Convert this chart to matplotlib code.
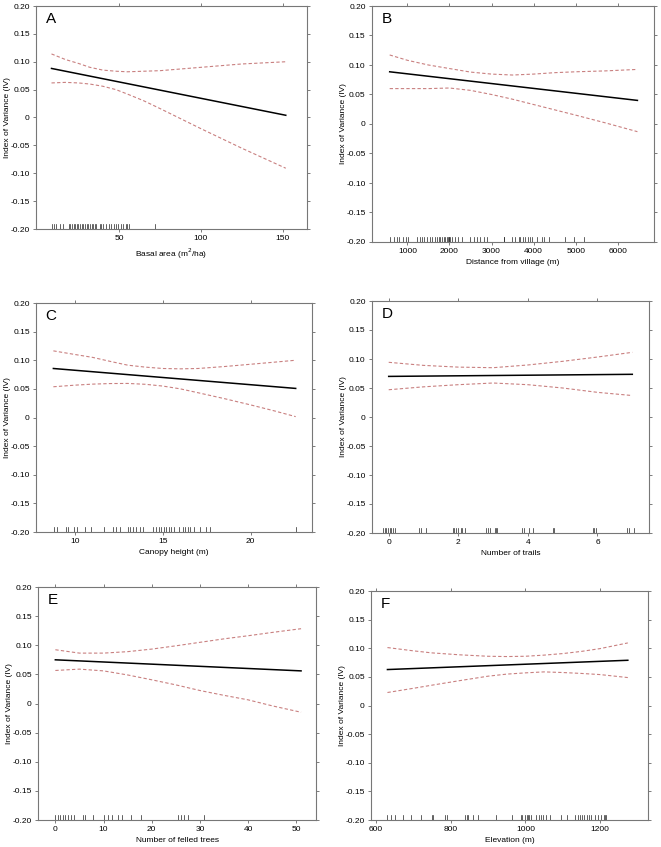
import numpy as np
import matplotlib.pyplot as plt
from matplotlib.ticker import FuncFormatter

plt.rcParams['font.family'] = ['Liberation Sans', 'DejaVu Sans']

# ---- panel A: basal area ----
a_x = [8.5, 17, 25, 32, 40, 48, 55, 65, 75, 100, 125, 152]
a_mean = [0.088, 0.083, 0.078, 0.074, 0.069, 0.064, 0.060, 0.055, 0.049, 0.034, 0.019, 0.004]
a_up = [0.114, 0.104, 0.097, 0.090, 0.085, 0.083, 0.082, 0.083, 0.084, 0.090, 0.096, 0.100]
a_lo = [0.062, 0.063, 0.062, 0.060, 0.056, 0.050, 0.042, 0.030, 0.016, -0.020, -0.055, -0.091]
a_rug = [9, 10, 11.5, 13.5, 15.5, 19, 20, 21, 22, 23, 24, 25, 26, 27, 28, 29, 30,
         31, 32, 33, 34, 35, 36, 38, 39, 40, 42, 44, 45, 47, 48, 49, 51, 52, 54,
         55, 56, 72]

# ---- panel B: distance from village ----
b_x = [580, 1000, 1500, 2000, 2500, 3000, 3500, 4000, 4500, 5000, 5700, 6466]
b_mean = [0.0885, 0.085, 0.081, 0.077, 0.073, 0.069, 0.065, 0.061, 0.057, 0.053, 0.047, 0.040]
b_up = [0.117, 0.108, 0.100, 0.094, 0.088, 0.0846, 0.083, 0.0846, 0.087, 0.0885, 0.090, 0.0925]
b_lo = [0.060, 0.060, 0.060, 0.061, 0.057, 0.050, 0.042, 0.033, 0.024, 0.015, 0.002, -0.013]
b_rug = [580, 676, 755, 810, 889, 968, 1008, 1229, 1309, 1348, 1403, 1467, 1530,
         1585, 1665, 1704, 1744, 1783, 1823, 1862, 1902, 1941, 1960, 1981, 2000,
         2021, 2060, 2139, 2195, 2297, 2495, 2590, 2653, 2733, 2812, 2891, 3286,
         3300, 3484, 3563, 3642, 3682, 3745, 3801, 3856, 3903, 3959, 4078, 4196,
         4236, 4354, 4750, 4948, 5185]

# ---- panel C: canopy height ----
c_x = [8.76, 10, 11, 12, 13, 14, 15, 16, 17, 18.5, 20, 21.3, 22.57]
c_mean = [0.0856, 0.0825, 0.080, 0.0775, 0.075, 0.0725, 0.070, 0.0675, 0.065,
          0.0615, 0.058, 0.0545, 0.0508]
c_up = [0.1164, 0.110, 0.105, 0.098, 0.0914, 0.088, 0.0856, 0.085, 0.0856,
        0.089, 0.093, 0.0965, 0.100]
c_lo = [0.0537, 0.0565, 0.0583, 0.0593, 0.0595, 0.058, 0.0549, 0.050, 0.0433,
        0.033, 0.022, 0.012, 0.0015]
c_rug = [8.82, 8.99, 9.47, 9.58, 9.94, 10.13, 10.57, 10.9, 11.62, 12.15, 12.32,
         12.57, 13.0, 13.14, 13.3, 13.49, 13.71, 13.87, 14.44, 14.63, 14.76, 14.9,
         15.05, 15.2, 15.33, 15.47, 15.62, 15.9, 16.15, 16.29, 16.44, 16.57,
         16.76, 17.14, 17.47, 17.71, 22.57]

# ---- panel D: number of trails ----
d_x = [0, 1, 2, 3, 4, 5, 6, 7]
d_mean = [0.070, 0.0705, 0.071, 0.0715, 0.072, 0.0725, 0.073, 0.0736]
d_up = [0.0943, 0.089, 0.086, 0.085, 0.0897, 0.096, 0.1034, 0.1115]
d_lo = [0.047, 0.052, 0.0557, 0.0586, 0.0557, 0.050, 0.0425, 0.037]
d_rug = [-0.16, -0.12, -0.08, -0.03, 0.03, 0.08, 0.12, 0.17, 0.86, 0.92, 1.08,
         1.84, 1.89, 1.93, 2.0, 2.07, 2.12, 2.19, 2.81, 2.86, 2.92, 3.05, 3.08,
         3.1, 3.84, 3.9, 4.02, 4.16, 4.71, 4.76, 5.86, 5.9, 5.95, 6.86, 6.9, 7.05]

# ---- panel E: number of felled trees ----
e_x = [0, 5, 10, 15, 20, 25, 30, 35, 40, 45, 51]
e_mean = [0.075, 0.073, 0.071, 0.069, 0.0675, 0.0655, 0.0635, 0.062, 0.060, 0.058, 0.056]
e_up = [0.0923, 0.0865, 0.0865, 0.089, 0.0934, 0.099, 0.105, 0.111, 0.1163, 0.122, 0.1284]
e_lo = [0.0567, 0.059, 0.056, 0.049, 0.0407, 0.032, 0.0223, 0.014, 0.0063, -0.004, -0.015]
e_rug = [0, 0.5, 1.0, 1.6, 2.1, 2.7, 3.3, 3.9, 5.8, 6.2, 7.9, 10.0, 11.0, 11.8,
         13.0, 13.9, 15.8, 17.8, 25.5, 26.0, 26.7, 27.6, 30.8]

# ---- panel F: elevation ----
f_x = [631, 700, 750, 825, 900, 950, 1000, 1050, 1100, 1150, 1200, 1274]
f_mean = [0.0628, 0.0645, 0.066, 0.068, 0.070, 0.071, 0.0725, 0.074, 0.075,
          0.076, 0.0775, 0.079]
f_up = [0.1012, 0.0955, 0.0919, 0.0885, 0.086, 0.0855, 0.086, 0.088, 0.0907,
        0.0945, 0.0994, 0.1093]
f_lo = [0.0227, 0.030, 0.0355, 0.0435, 0.0512, 0.0548, 0.057, 0.0587, 0.0576,
        0.056, 0.054, 0.0488]
f_rug = [631, 640, 652, 672, 693, 721, 749, 752, 785, 791, 838, 843, 847, 859,
         874, 921, 965, 987, 992, 998, 1005, 1007, 1009, 1014, 1029, 1036, 1043,
         1047, 1054, 1067, 1096, 1111, 1134, 1140, 1147, 1152, 1158, 1164, 1169,
         1176, 1185, 1194, 1203, 1209, 1212, 1216]

panels = [
    ('A', a_x, a_mean, a_up, a_lo, a_rug, 'Basal area (m$^{2}$/ha)',
     (-1, 165), [50, 100, 150], [36, 6, 307, 229]),
    ('B', b_x, b_mean, b_up, b_lo, b_rug, 'Distance from village (m)',
     (160, 6860), [1000, 2000, 3000, 4000, 5000, 6000], [372, 6, 654, 242]),
    ('C', c_x, c_mean, c_up, c_lo, c_rug, 'Canopy height (m)',
     (7.77, 23.5), [10, 15, 20], [36, 303, 312, 532]),
    ('D', d_x, d_mean, d_up, d_lo, d_rug, 'Number of trails',
     (-0.48, 7.48), [0, 2, 4, 6], [372, 301, 649, 533]),
    ('E', e_x, e_mean, e_up, e_lo, e_rug, 'Number of felled trees',
     (-3.6, 54.1), [0, 10, 20, 30, 40, 50], [38, 587, 316, 820]),
    ('F', f_x, f_mean, f_up, f_lo, f_rug, 'Elevation (m)',
     (587, 1328), [600, 800, 1000, 1200], [371, 591, 648, 820]),
]

W, H = 661, 847
fig = plt.figure(figsize=(W / 100, H / 100), dpi=100)


def fmt_y(v, pos):
    if abs(v) < 1e-9:
        return '0'
    return '%.2f' % v


for letter, x, mean, up, lo, rug, xlabel, xlim, xticks, box in panels:
    l, t, r, b = box
    ax = fig.add_axes([l / W, (H - b) / H, (r - l) / W, (b - t) / H])
    ax.plot(x, up, color='#c98080', lw=0.8, ls=(0, (3, 2)))
    ax.plot(x, lo, color='#c98080', lw=0.8, ls=(0, (3, 2)))
    ax.plot([x[0], x[-1]], [mean[0], mean[-1]], color='black', lw=1.1)
    # rug of observations along the bottom
    for v in rug:
        ax.plot([v, v], [-0.2, -0.191], color='#222222', lw=0.5)
    ax.set_xlim(*xlim)
    ax.set_ylim(-0.2, 0.2)
    ax.set_xticks(xticks)
    ax.set_yticks(np.arange(-0.2, 0.201, 0.05))
    ax.yaxis.set_major_formatter(FuncFormatter(fmt_y))
    ax.tick_params(direction='out', top=True, right=True, length=2.5,
                   width=0.6, color='#666666', labelsize=6.0, pad=2)
    for s in ax.spines.values():
        s.set_color('#777777')
        s.set_linewidth(0.8)
    ax.set_xlabel(xlabel, fontsize=6.0, labelpad=3)
    ax.set_ylabel('Index of Variance (IV)', fontsize=6.0)
    ax.yaxis.set_label_coords(-25.0 / (r - l), 0.5)
    ax.text(0.035, 0.975, letter, transform=ax.transAxes, fontsize=11,
            ha='left', va='top')

fig.savefig('out.png', dpi=100)
